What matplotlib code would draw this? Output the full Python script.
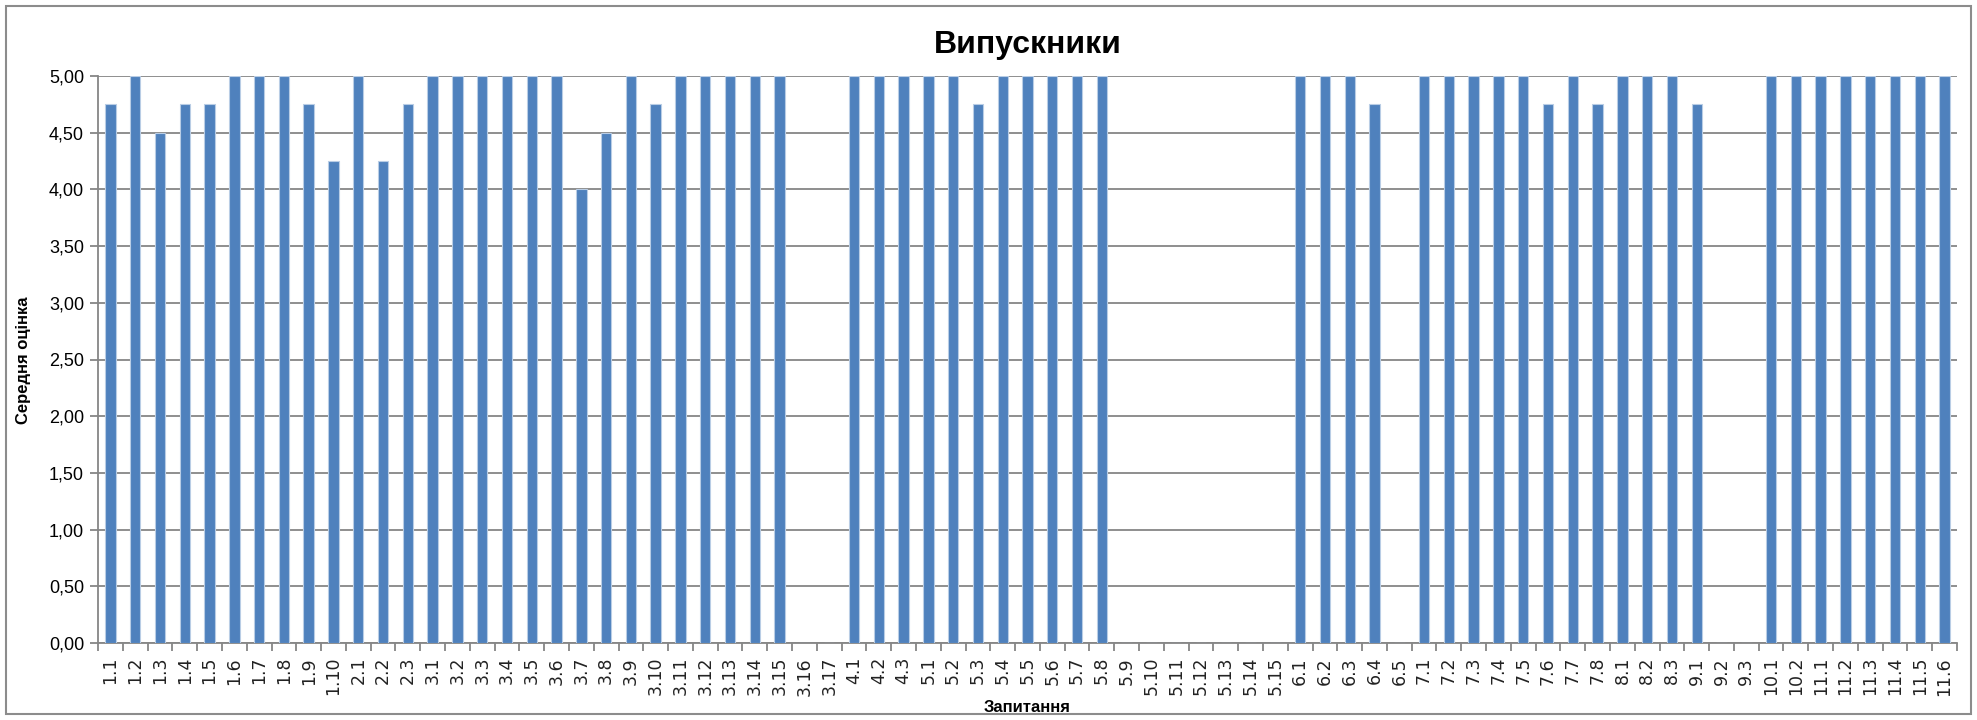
import matplotlib
matplotlib.use("Agg")
import matplotlib.pyplot as plt
from matplotlib.patches import Rectangle
import numpy as np

categories = (
    [f"1.{i}" for i in range(1, 11)]
    + [f"2.{i}" for i in range(1, 4)]
    + [f"3.{i}" for i in range(1, 18)]
    + [f"4.{i}" for i in range(1, 4)]
    + [f"5.{i}" for i in range(1, 16)]
    + [f"6.{i}" for i in range(1, 6)]
    + [f"7.{i}" for i in range(1, 9)]
    + [f"8.{i}" for i in range(1, 4)]
    + [f"9.{i}" for i in range(1, 4)]
    + [f"10.{i}" for i in range(1, 3)]
    + [f"11.{i}" for i in range(1, 7)]
)

vals_1 = [4.75, 5, 4.5, 4.75, 4.75, 5, 5, 5, 4.75, 4.25]
vals_2 = [5, 4.25, 4.75]
vals_3 = [5, 5, 5, 5, 5, 5, 4.0, 4.5, 5, 4.75, 5, 5, 5, 5, 5, 0, 0]
vals_4 = [5, 5, 5]
vals_5 = [5, 5, 4.75, 5, 5, 5, 5, 5, 0, 0, 0, 0, 0, 0, 0]
vals_6 = [5, 5, 5, 4.75, 0]
vals_7 = [5, 5, 5, 5, 5, 4.75, 5, 4.75]
vals_8 = [5, 5, 5]
vals_9 = [4.75, 0, 0]
vals_10 = [5, 5]
vals_11 = [5, 5, 5, 5, 5, 5]
values = vals_1 + vals_2 + vals_3 + vals_4 + vals_5 + vals_6 + vals_7 + vals_8 + vals_9 + vals_10 + vals_11

y_ticks = [0, 0.5, 1, 1.5, 2, 2.5, 3, 3.5, 4, 4.5, 5]
y_tick_labels = ["0,00", "0,50", "1,00", "1,50", "2,00", "2,50", "3,00", "3,50", "4,00", "4,50", "5,00"]

title = "Випускники"
x_label = "Запитання"
y_label = "Середня оцінка"

W, H = 1977, 720
fig = plt.figure(figsize=(W / 100, H / 100), dpi=100)
ax = fig.add_axes([98 / W, 1 - 643 / H, (1957 - 98) / W, (643 - 76) / H])

# outer border
fig.patches.append(Rectangle((6 / W, 6 / H), (W - 12) / W, (H - 12) / H, transform=fig.transFigure,
                             fill=False, edgecolor="#8c8c8c", linewidth=1.5))

x = np.arange(len(categories))
ax.bar(x, values, width=0.42, color="#4F81BD", edgecolor="#B9CDE5", linewidth=0.8, zorder=3)

ax.set_xlim(-0.5, len(categories) - 0.5)
ax.set_ylim(0, 5)
ax.set_yticks(y_ticks)
ax.set_yticklabels(y_tick_labels, fontsize=13, family=["Liberation Sans", "DejaVu Sans"])
ax.yaxis.grid(True, color="#868686", linewidth=1.3, zorder=0)
ax.set_axisbelow(True)

ax.set_xticks(x)
ax.set_xticklabels(categories, rotation=90, fontsize=12.5, family="DejaVu Sans", color="#222222")
ax.set_xticks(np.arange(-0.5, len(categories), 1), minor=True)
ax.tick_params(axis="x", which="major", length=0, pad=10)
ax.tick_params(axis="x", which="minor", length=6, color="#868686", width=1.3)
ax.tick_params(axis="y", length=6, color="#868686", width=1.3, pad=4)

for s in ["top", "right"]:
    ax.spines[s].set_visible(False)
for s in ["left", "bottom"]:
    ax.spines[s].set_color("#868686")
    ax.spines[s].set_linewidth(1.3)

fig.text(0.5 * (98 + 1957) / W, 1 - 45 / H, title, ha="center", va="center", fontsize=23, fontweight="bold",
         family=["Liberation Sans", "DejaVu Sans"])
fig.text(0.5 * (98 + 1957) / W, 1 - 707 / H, x_label, ha="center", va="center", fontsize=12, fontweight="bold",
         family=["Liberation Sans", "DejaVu Sans"])
fig.text(24 / W, 1 - 360 / H, y_label, ha="center", va="center", rotation=90, fontsize=12, fontweight="bold",
         family=["Liberation Sans", "DejaVu Sans"])

fig.savefig("out.png", dpi=100)
